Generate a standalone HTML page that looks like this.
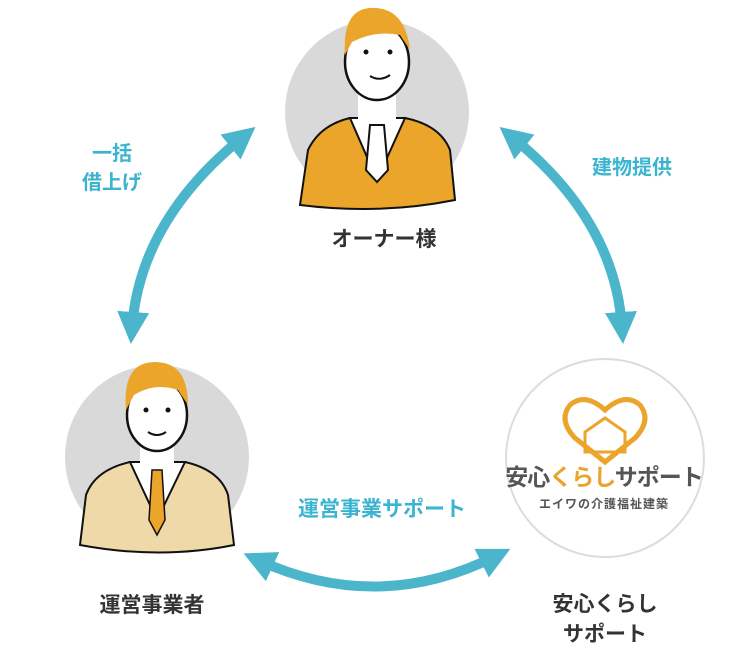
<!DOCTYPE html>
<html><head><meta charset="utf-8"><style>
html,body{margin:0;padding:0;background:#fff;}
svg{display:block}
text{font-family:"Liberation Sans","Noto Sans CJK JP",sans-serif;font-weight:bold}
</style></head><body>
<svg width="750" height="650" viewBox="0 0 750 650" xmlns="http://www.w3.org/2000/svg">
<defs>
<marker id="ah" viewBox="0 0 10 10" refX="5" refY="5" markerWidth="3.2" markerHeight="3.2" orient="auto-start-reverse" markerUnits="strokeWidth">
<path d="M0,0 L10,5 L0,10 z" fill="#4bb5cc"/></marker>
</defs>
<g fill="none" stroke="#4bb5cc" stroke-width="10">
<path d="M243,137 Q140,220 132,328" marker-start="url(#ah)" marker-end="url(#ah)"/>
<path d="M512,137 Q615,220 622,328" marker-start="url(#ah)" marker-end="url(#ah)"/>
<path d="M258,560 Q378,615 496,556" marker-start="url(#ah)" marker-end="url(#ah)"/>
</g>
<circle cx="377" cy="112" r="92" fill="#d9d9d9"/>
<path d="M300,205 L308,150 Q320,125 350,118 L405,118 Q440,125 450,150 L455,200 Q380,215 300,205z" fill="#eaa52a" stroke="#111" stroke-width="2"/>
<path d="M350,118 L377,180 L405,118z" fill="#fff" stroke="#111" stroke-width="2"/>
<path d="M370,125 L384,125 L388,170 L377,182 L366,170z" fill="#fff" stroke="#111" stroke-width="2"/>
<rect x="358" y="90" width="38" height="32" fill="#fff"/>
<ellipse cx="377" cy="62" rx="32" ry="38" fill="#fff" stroke="#111" stroke-width="2.5"/>
<path d="M345,55 Q342,10 370,8 Q405,6 410,50 L400,35 Q375,30 352,42z" fill="#eaa52a"/>
<circle cx="366" cy="52" r="2.5" fill="#111"/><circle cx="390" cy="52" r="2.5" fill="#111"/>
<path d="M370,76 Q380,82 390,75" stroke="#111" stroke-width="2" fill="none"/>
<circle cx="157" cy="457" r="92" fill="#d9d9d9"/>
<path d="M80,545 L86,495 Q95,470 130,462 L185,462 Q220,470 228,495 L234,545 Q160,560 80,545z" fill="#efd9a8" stroke="#111" stroke-width="2"/>
<path d="M130,462 L157,520 L185,462z" fill="#fff" stroke="#111" stroke-width="2"/>
<path d="M152,470 L162,470 L165,520 L157,535 L149,520z" fill="#eaa52a" stroke="#111" stroke-width="1.5"/>
<rect x="140" y="440" width="34" height="28" fill="#fff"/>
<ellipse cx="157" cy="415" rx="30" ry="36" fill="#fff" stroke="#111" stroke-width="2.5"/>
<path d="M126,410 Q122,362 155,362 Q188,362 188,405 L178,390 Q155,382 134,395z" fill="#eaa52a"/>
<circle cx="146" cy="410" r="2.5" fill="#111"/><circle cx="168" cy="410" r="2.5" fill="#111"/>
<path d="M148,432 Q157,438 166,432" stroke="#111" stroke-width="2" fill="none"/>
<circle cx="605" cy="458" r="99" fill="#fff" stroke="#dcdcdc" stroke-width="2"/>
<path d="M605,410 Q585,392 570,405 Q558,420 575,438 L605,462 L635,438 Q652,420 640,405 Q625,392 605,410z" fill="none" stroke="#eaa52a" stroke-width="5"/>
<path d="M585,432 L605,418 L625,432 L625,452 L585,452z" fill="none" stroke="#eaa52a" stroke-width="3"/>
<text x="604" y="485" font-size="23" fill="#555" text-anchor="middle" letter-spacing="-1">安心<tspan fill="#eaa52a">くらし</tspan>サポート</text>
<text x="604" y="508" font-size="12" fill="#555" text-anchor="middle" font-weight="normal" letter-spacing="1">エイワの介護福祉建築</text>
<text x="384" y="246" font-size="21" fill="#333" text-anchor="middle">オーナー様</text>
<text x="152" y="612" font-size="21" fill="#333" text-anchor="middle">運営事業者</text>
<text x="605" y="611" font-size="21" fill="#333" text-anchor="middle">安心くらし</text>
<text x="605" y="641" font-size="21" fill="#333" text-anchor="middle">サポート</text>
<text x="112" y="160" font-size="20" fill="#3bb4cf" text-anchor="middle">一括</text>
<text x="112" y="189" font-size="20" fill="#3bb4cf" text-anchor="middle">借上げ</text>
<text x="632" y="174" font-size="20" fill="#3bb4cf" text-anchor="middle">建物提供</text>
<text x="382" y="516" font-size="21" fill="#3bb4cf" text-anchor="middle">運営事業サポート</text>
</svg>
</body></html>
